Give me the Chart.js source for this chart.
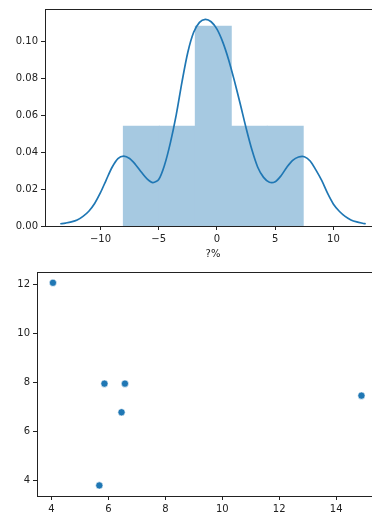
<!DOCTYPE html>
<html>
<head>
<meta charset="utf-8">
<script src="https://cdn.jsdelivr.net/npm/chart.js@4/dist/chart.umd.min.js"></script>
<style>
  html, body { margin: 0; padding: 0; background: #fff; overflow: hidden; }
  #wrap { position: relative; width: 372px; height: 513px; overflow: hidden; }
  #histChart { position: absolute; left: 0; top: 0; }
  #scatterChart { position: absolute; left: 0; top: 260px; }
</style>
</head>
<body>
<div id="wrap">
  <canvas id="histChart" width="381" height="260"></canvas>
  <canvas id="scatterChart" width="382" height="253"></canvas>
</div>
<script>
// 直方圖 (密度)
const binCenters = [-6.49, -3.40, -0.315, 2.77, 5.86];
const binDensity = [0.054, 0.054, 0.108, 0.054, 0.054];

// KDE 曲線
const kdeX = [-13.45, -13, -12.5, -12, -11.5, -11, -10.5, -10, -9.5, -9, -8.5, -8, -7.5, -7, -6.5, -6, -5.5, -5, -4.5, -4,
              -3.5, -3, -2.5, -2, -1.5, -1, -0.5, 0, 0.5, 1, 1.5, 2, 2.5, 3, 3.5, 4, 4.5, 5, 5.5, 6,
              6.5, 7, 7.5, 8, 8.5, 9, 9.5, 10, 10.5, 11, 11.5, 12, 12.5, 12.77];
const kdeY = [0.0012, 0.0016, 0.0022, 0.0032, 0.0052, 0.0080, 0.0122, 0.0180, 0.0250, 0.0318, 0.0365, 0.0378, 0.0365, 0.0333, 0.0292, 0.0255, 0.0235, 0.0252, 0.0330, 0.0450,
              0.0600, 0.0780, 0.0940, 0.1048, 0.1102, 0.1118, 0.1105, 0.1065, 0.0995, 0.0900, 0.0785, 0.0660, 0.0530, 0.0412, 0.0318, 0.0263, 0.0237, 0.0240, 0.0272, 0.0318,
              0.0355, 0.0373, 0.0375, 0.0352, 0.0302, 0.0245, 0.0176, 0.0118, 0.0080, 0.0052, 0.0033, 0.0022, 0.0015, 0.0012];

// 散點圖
const scatterX = [4.05, 5.86, 6.58, 6.46, 5.68, 14.89];
const scatterY = [12.08, 7.96, 7.96, 6.79, 3.80, 7.47];

// 刻度
const histXTicks = [-10, -5, 0, 5, 10];
const histYTicks = [0, 0.02, 0.04, 0.06, 0.08, 0.10];
const scatterXTicks = [4, 6, 8, 10, 12, 14];
const scatterYTicks = [4, 6, 8, 10, 12];

const BLUE = '#1f77b4';
const INK = '#222';
const FONT = { family: 'DejaVu Sans', size: 10 };

// 畫上方和右方的邊框
const boxPlugin = {
    id: 'box',
    afterDraw(chart) {
        const a = chart.chartArea;
        const ctx = chart.ctx;
        ctx.save();
        ctx.strokeStyle = INK;
        ctx.lineWidth = 1;
        ctx.strokeRect(a.left + 0.5, a.top + 0.5, a.right - a.left, a.bottom - a.top);
        ctx.restore();
    }
};

function axis(tickValues, fmt, extra) {
    return Object.assign({
        type: 'linear',
        offset: false,
        afterBuildTicks: s => { s.ticks = tickValues.map(v => ({ value: v })); },
        grid: { display: true, offset: false, drawOnChartArea: false, drawTicks: true, tickLength: 4, color: INK },
        border: { display: true, color: INK, width: 1 },
        ticks: { color: INK, font: FONT, padding: 3, callback: fmt }
    }, extra);
}

const minus = v => String(v).replace('-', '\u2212');

new Chart(document.getElementById('histChart'), {
    type: 'bar',
    data: {
        datasets: [
            {
                type: 'line',
                data: kdeX.map((x, i) => ({ x: x, y: kdeY[i] })),
                borderColor: BLUE,
                borderWidth: 1.7,
                pointRadius: 0,
                tension: 0.3,
                fill: false,
                order: 0
            },
            {
                type: 'bar',
                data: binCenters.map((x, i) => ({ x: x, y: binDensity[i] })),
                backgroundColor: '#a6c9e1',
                borderWidth: 0,
                inflateAmount: 0.5,
                barPercentage: 1,
                categoryPercentage: 1,
                order: 1
            }
        ]
    },
    options: {
        responsive: false,
        animation: false,
        layout: { padding: { top: 7, right: 0, bottom: 0, left: 0 } },
        plugins: { legend: { display: false }, tooltip: { enabled: false } },
        scales: {
            x: axis(histXTicks, minus, {
                min: -14.76, max: 14.08,
                afterFit: s => { s.height = 34; },
                title: { display: true, text: '?%', color: INK, font: FONT, padding: { top: 1, bottom: 0 } }
            }),
            y: axis(histYTicks, v => v.toFixed(2), {
                min: 0, max: 0.1174,
                afterFit: s => { s.width = 45; }
            })
        }
    },
    plugins: [boxPlugin]
});

new Chart(document.getElementById('scatterChart'), {
    type: 'scatter',
    data: {
        datasets: [{
            data: scatterX.map((x, i) => ({ x: x, y: scatterY[i] })),
            backgroundColor: BLUE,
            borderColor: '#fff',
            borderWidth: 0.6,
            pointRadius: 3.6
        }]
    },
    options: {
        responsive: false,
        animation: false,
        layout: { padding: { top: 12, right: 0, bottom: 0, left: 0 } },
        plugins: { legend: { display: false }, tooltip: { enabled: false } },
        scales: {
            x: axis(scatterXTicks, v => String(v), {
                min: 3.49, max: 15.45,
                afterFit: s => { s.height = 17; }
            }),
            y: axis(scatterYTicks, v => String(v), {
                min: 3.37, max: 12.52,
                afterFit: s => { s.width = 37; }
            })
        }
    },
    plugins: [boxPlugin]
});
</script>
</body>
</html>
